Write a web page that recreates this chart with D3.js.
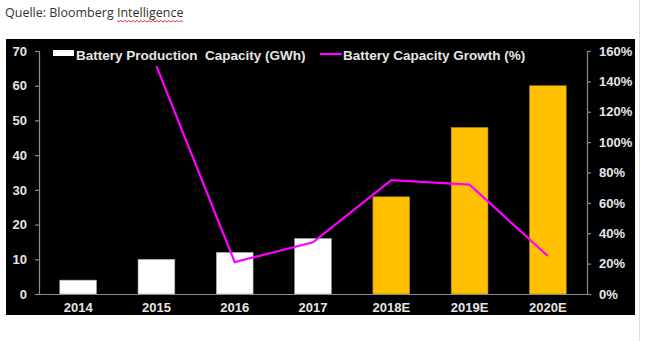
<!DOCTYPE html>
<html>
<head>
<meta charset="utf-8">
<script src="https://cdn.jsdelivr.net/npm/d3@7"></script>
<style>
  html, body { margin: 0; padding: 0; background: #fff; }
  svg { display: block; }
  text { white-space: pre; }
</style>
</head>
<body>
<svg id="chart" width="651" height="341"></svg>
<script>
// Battery production capacity (GWh) and year-on-year growth (%)
const years = ["2014", "2015", "2016", "2017", "2018E", "2019E", "2020E"];
const capacity = [4, 10, 12, 16, 28, 48, 60];
const growth = [null, 150, 21, 34, 75, 72, 25];
const forecast = [false, false, false, false, true, true, true];
const leftTicks = [0, 10, 20, 30, 40, 50, 60, 70];
const rightTicks = [0, 20, 40, 60, 80, 100, 120, 140, 160];
const legendLabels = ["Battery Production  Capacity (GWh)", "Battery Capacity Growth (%)"];
const sourceText = "Quelle: Bloomberg ";
const sourceName = "Intelligence";

const svg = d3.select("#chart");
const font = "'Liberation Sans', Arial, sans-serif";
const labelColor = "#e6e6e6";
const axisColor = "#8c8c8c";

// page edge line on the right
svg.append("line").attr("x1", 639.5).attr("x2", 639.5).attr("y1", 0).attr("y2", 341)
  .attr("stroke", "#dcdcdc").attr("stroke-width", 1);

// source line
const src = svg.append("text").attr("x", 5).attr("y", 17)
  .attr("font-family", "'Open Sans', 'DejaVu Sans', sans-serif").attr("font-size", 12.5)
  .attr("fill", "#333");
const introSpan = src.append("tspan").text(sourceText);
const nameSpan = src.append("tspan").text(sourceName);

// black chart panel
svg.append("rect").attr("x", 6).attr("y", 39).attr("width", 629).attr("height", 276).attr("fill", "#000");

const x0 = 39, x1 = 587, yTop = 51, yBase = 294;
const x = d3.scaleBand().domain(years).range([x0, x1]).paddingInner(0.53).paddingOuter(0.265);
const yL = d3.scaleLinear().domain([0, 70]).range([yBase, yTop]);
const yR = d3.scaleLinear().domain([0, 160]).range([yBase, yTop]);

// bars
svg.append("g").selectAll("rect").data(years).join("rect")
  .attr("x", d => x(d))
  .attr("width", x.bandwidth())
  .attr("y", (d, i) => yL(capacity[i]))
  .attr("height", (d, i) => yBase - yL(capacity[i]))
  .attr("fill", (d, i) => forecast[i] ? "#ffc000" : "#ffffff")
  .attr("stroke", (d, i) => forecast[i] ? "#a08020" : "#9a9a9a")
  .attr("stroke-width", 0.6);

// axes
function styleAxis(g) {
  g.selectAll("path, line").attr("stroke", axisColor).attr("stroke-width", 1.2);
  g.selectAll("text").attr("fill", labelColor).attr("font-family", font)
    .attr("font-weight", "bold").attr("font-size", 13);
}

svg.append("g").attr("transform", `translate(${x0},0)`)
  .call(d3.axisLeft(yL).tickValues(leftTicks).tickSize(4).tickSizeOuter(4).tickPadding(8))
  .call(styleAxis);

svg.append("g").attr("transform", `translate(${x1},0)`)
  .call(d3.axisRight(yR).tickValues(rightTicks).tickSize(4).tickSizeOuter(4).tickPadding(8)
    .tickFormat(d => d + "%"))
  .call(styleAxis);

const xg = svg.append("g").attr("transform", `translate(0,${yBase})`)
  .call(d3.axisBottom(x).tickSize(0).tickSizeOuter(0).tickPadding(9))
  .call(styleAxis);
xg.select(".domain").attr("d", `M${x0},0.5H${x1}`);

// growth line
const line = d3.line()
  .defined(d => d != null)
  .x((d, i) => x(years[i]) + x.bandwidth() / 2)
  .y(d => yR(d));
svg.append("path").datum(growth).attr("d", line)
  .attr("fill", "none").attr("stroke", "#ff00ff").attr("stroke-width", 2.2)
  .attr("stroke-linejoin", "miter");

// legend
const legend = svg.append("g").attr("font-family", font).attr("font-weight", "bold")
  .attr("font-size", 13.5).attr("fill", labelColor);
legend.append("rect").attr("x", 53).attr("y", 50).attr("width", 21).attr("height", 6).attr("fill", "#fff");
legend.append("text").attr("x", 76).attr("y", 59.5).text(legendLabels[0]);
legend.append("line").attr("x1", 320).attr("x2", 342).attr("y1", 54).attr("y2", 54)
  .attr("stroke", "#ff00ff").attr("stroke-width", 2.2);
legend.append("text").attr("x", 343).attr("y", 59.5).text(legendLabels[1]);

// spell-check underline beneath the source name
const nameWidth = nameSpan.node().getComputedTextLength();
const startX = 5 + introSpan.node().getComputedTextLength();
const pts = [];
for (let px = 0; px <= nameWidth; px += 2) pts.push([startX + px, 20.5 + ((px / 2) % 2 === 0 ? 0 : 1.5)]);
svg.append("path").attr("d", d3.line()(pts)).attr("fill", "none")
  .attr("stroke", "#e02020").attr("stroke-width", 0.9);
</script>
</body>
</html>
